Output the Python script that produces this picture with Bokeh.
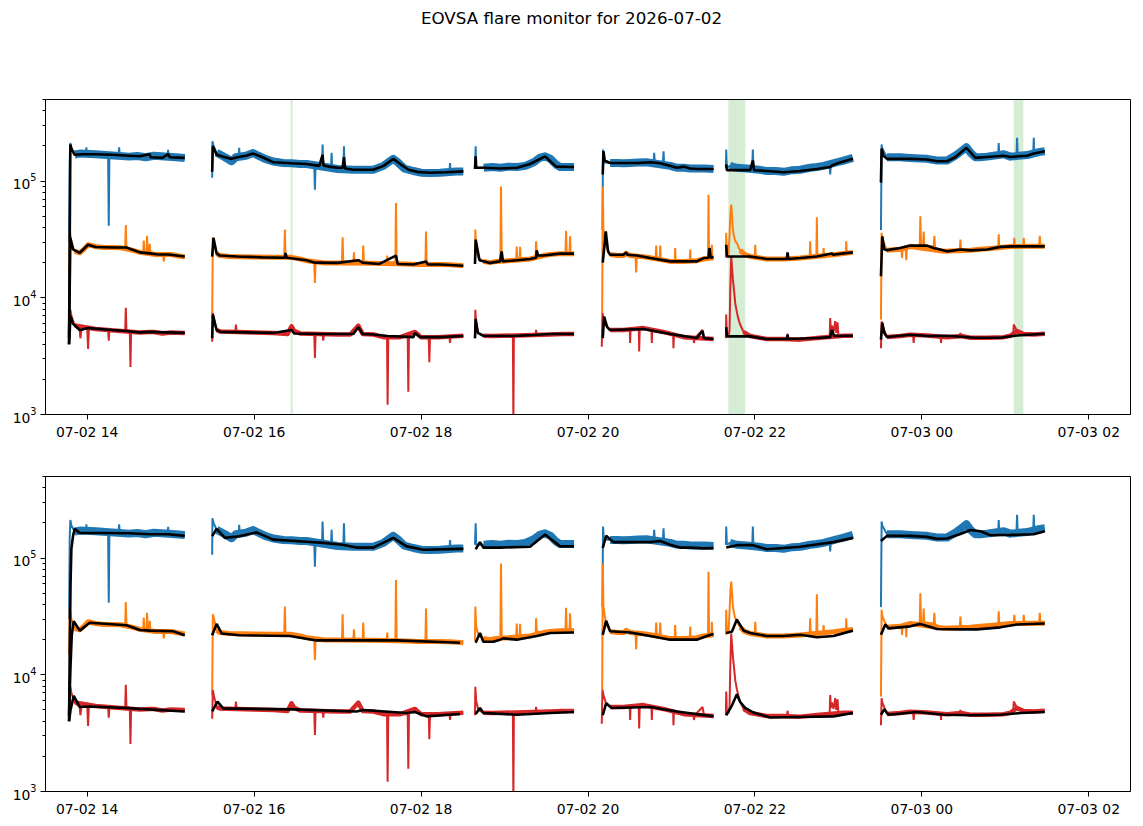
from datetime import datetime, timezone
import math
from bokeh.plotting import figure
from bokeh.models import Range1d, FixedTicker, DatetimeTickFormatter, BoxAnnotation, Div
from bokeh.layouts import column
from bokeh.embed import file_html
from bokeh.resources import INLINE

TITLE = "EOVSA flare monitor for 2026-07-02"
XLIM_H = (13.5, 26.5)          # hours after 2026-07-02 00:00 UTC
YLIM = (1e3, 5e5)
X_TICKS_H = [14, 16, 18, 20, 22, 24, 26]
Y_TICKS = [1e3, 1e4, 1e5]
Y_MINOR = [m * 10 ** e for e in (3, 4, 5) for m in range(2, 10) if m * 10 ** e <= 5e5]
FLARE_SPANS_H = [(16.437, 16.461), (21.682, 21.884), (25.100, 25.216)]

# raw light curves (hour, value); None = data gap
RAW_BLUE = [
    (13.782, 3.0e4), (13.790, 1.5e5), (13.798, 2.12e5), (13.810, 1.9e5), (13.850, 1.69e5), (13.910, 1.72e5),
    (13.985, 1.7e5), (13.990, 1.95e5), (13.995, 1.7e5), (14.100, 1.7e5), (14.250, 1.68e5), (14.258, 4.15e4),
    (14.266, 1.68e5), (14.375, 1.7e5), (14.382, 1.95e5), (14.389, 1.7e5), (14.500, 1.62e5), (14.600, 1.64e5),
    (14.700, 1.6e5), (14.800, 1.65e5), (14.962, 1.6e5), (14.969, 1.85e5), (14.976, 1.6e5), (15.060, 1.6e5),
    (15.169, 1.58e5),
    None,
    (15.497, 1.07e5), (15.500, 2.19e5), (15.513, 2.0e5), (15.550, 1.75e5), (15.589, 1.69e5), (15.650, 1.6e5),
    (15.729, 1.48e5), (15.781, 1.6e5), (15.815, 1.6e5), (15.821, 1.93e5), (15.827, 1.6e5), (15.900, 1.65e5),
    (15.988, 1.74e5), (16.050, 1.65e5), (16.130, 1.55e5), (16.228, 1.47e5), (16.350, 1.43e5), (16.448, 1.42e5),
    (16.550, 1.4e5), (16.628, 1.4e5), (16.720, 1.36e5), (16.728, 8.45e4), (16.736, 1.36e5), (16.813, 1.35e5),
    (16.820, 2.06e5), (16.827, 1.4e5), (16.921, 1.3e5), (16.928, 1.75e5), (16.935, 1.3e5), (17.000, 1.27e5),
    (17.069, 1.3e5), (17.076, 1.99e5), (17.083, 1.27e5), (17.188, 1.25e5), (17.307, 1.25e5), (17.427, 1.25e5),
    (17.550, 1.35e5), (17.667, 1.55e5), (17.720, 1.45e5), (17.800, 1.28e5), (17.907, 1.22e5), (18.000, 1.18e5),
    (18.100, 1.17e5), (18.227, 1.18e5), (18.340, 1.2e5), (18.347, 1.43e5), (18.354, 1.2e5), (18.420, 1.21e5),
    (18.506, 1.21e5),
    None,
    (18.646, 1.3e5), (18.654, 1.99e5), (18.660, 1.3e5), (18.750, 1.3e5), (18.850, 1.32e5), (18.950, 1.3e5),
    (19.050, 1.33e5), (19.150, 1.32e5), (19.250, 1.35e5), (19.350, 1.45e5), (19.420, 1.58e5), (19.486, 1.63e5),
    (19.550, 1.55e5), (19.620, 1.38e5), (19.666, 1.32e5), (19.750, 1.32e5), (19.833, 1.32e5),
    None,
    (20.173, 3.8e4), (20.180, 1.86e5), (20.190, 1.45e5), (20.265, 1.43e5), (20.350, 1.43e5), (20.425, 1.42e5),
    (20.505, 1.43e5), (20.600, 1.44e5), (20.700, 1.45e5), (20.786, 1.46e5), (20.793, 1.75e5), (20.800, 1.46e5),
    (20.898, 1.45e5), (20.905, 1.8e5), (20.912, 1.42e5), (20.985, 1.35e5), (21.064, 1.3e5), (21.150, 1.3e5),
    (21.225, 1.28e5), (21.304, 1.28e5), (21.400, 1.28e5), (21.504, 1.27e5),
    None,
    (21.652, 1.3e5), (21.656, 1.86e5), (21.664, 1.3e5), (21.700, 1.35e5), (21.780, 1.3e5), (21.900, 1.28e5),
    (21.968, 1.28e5), (21.975, 1.86e5), (21.982, 1.28e5), (22.050, 1.25e5), (22.143, 1.22e5), (22.250, 1.22e5),
    (22.343, 1.2e5), (22.450, 1.24e5), (22.543, 1.25e5), (22.662, 1.3e5), (22.742, 1.32e5), (22.823, 1.35e5),
    (22.895, 1.38e5), (22.902, 1.14e5), (22.910, 1.4e5), (22.982, 1.45e5), (23.062, 1.5e5), (23.174, 1.58e5),
    None,
    (23.510, 3.8e4), (23.518, 2.06e5), (23.526, 1.9e5), (23.582, 1.6e5), (23.741, 1.6e5), (23.862, 1.58e5),
    (23.982, 1.56e5), (24.062, 1.55e5), (24.182, 1.5e5), (24.302, 1.5e5), (24.400, 1.65e5), (24.462, 1.78e5),
    (24.534, 1.95e5), (24.582, 1.75e5), (24.642, 1.6e5), (24.702, 1.6e5), (24.782, 1.62e5), (24.914, 1.62e5),
    (24.921, 2.12e5), (24.928, 1.62e5), (24.981, 1.7e5), (25.061, 1.62e5), (25.134, 1.65e5), (25.141, 2.35e5),
    (25.148, 1.65e5), (25.261, 1.67e5), (25.334, 1.7e5), (25.341, 2.35e5), (25.348, 1.72e5), (25.413, 1.78e5),
    (25.473, 1.8e5),
]

RAW_ORANGE = [
    (13.782, 1.5e4), (13.790, 3.8e4), (13.810, 3.0e4), (13.850, 2.5e4), (13.910, 2.43e4), (13.960, 2.6e4),
    (14.010, 2.85e4), (14.100, 2.75e4), (14.200, 2.7e4), (14.300, 2.7e4), (14.400, 2.68e4), (14.455, 2.65e4),
    (14.462, 4.2e4), (14.470, 2.65e4), (14.550, 2.55e4), (14.630, 2.45e4), (14.670, 2.42e4), (14.677, 3.1e4),
    (14.685, 2.42e4), (14.710, 2.4e4), (14.717, 3.4e4), (14.725, 2.4e4), (14.742, 2.4e4), (14.749, 2.9e4),
    (14.757, 2.38e4), (14.820, 2.35e4), (14.910, 2.35e4), (14.917, 2.05e4), (14.925, 2.3e4), (15.000, 2.35e4),
    (15.100, 2.28e4), (15.169, 2.24e4),
    None,
    (15.497, 6.7e3), (15.505, 3.3e4), (15.520, 3.0e4), (15.550, 2.4e4), (15.589, 2.3e4), (15.700, 2.26e4),
    (15.850, 2.25e4), (16.000, 2.24e4), (16.228, 2.22e4), (16.360, 2.2e4), (16.368, 3.84e4), (16.376, 2.2e4),
    (16.448, 2.22e4), (16.550, 2.15e4), (16.628, 2.08e4), (16.720, 2.0e4), (16.728, 1.34e4), (16.736, 2.0e4),
    (16.850, 1.99e4), (17.000, 1.99e4), (17.052, 1.99e4), (17.060, 3.3e4), (17.068, 1.99e4), (17.188, 1.98e4),
    (17.196, 2.45e4), (17.204, 1.98e4), (17.300, 1.99e4), (17.307, 2.8e4), (17.315, 2.0e4), (17.427, 1.98e4),
    (17.587, 1.95e4), (17.595, 2.3e4), (17.600, 1.95e4), (17.692, 1.95e4), (17.699, 6.5e4), (17.707, 2.0e4),
    (17.827, 1.95e4), (17.950, 1.93e4), (18.052, 1.93e4), (18.059, 3.7e4), (18.067, 1.95e4), (18.200, 1.93e4),
    (18.350, 1.92e4), (18.506, 1.88e4),
    None,
    (18.646, 1.95e4), (18.650, 3.84e4), (18.660, 2.6e4), (18.686, 2.2e4), (18.746, 2.05e4), (18.826, 2.0e4),
    (18.900, 2.05e4), (18.950, 2.05e4), (18.958, 9.0e4), (18.966, 2.1e4), (19.050, 2.08e4), (19.140, 2.1e4),
    (19.146, 2.75e4), (19.152, 2.1e4), (19.180, 2.12e4), (19.186, 2.73e4), (19.192, 2.12e4), (19.306, 2.15e4),
    (19.372, 2.2e4), (19.378, 3.05e4), (19.386, 2.35e4), (19.466, 2.3e4), (19.546, 2.35e4), (19.666, 2.39e4),
    (19.730, 2.39e4), (19.737, 3.76e4), (19.745, 2.39e4), (19.778, 2.4e4), (19.785, 3.36e4), (19.792, 2.4e4),
    (19.833, 2.39e4),
    None,
    (20.170, 7.4e3), (20.177, 9.0e4), (20.185, 3.84e4), (20.193, 3.5e4), (20.213, 2.8e4), (20.265, 2.35e4),
    (20.350, 2.3e4), (20.425, 2.3e4), (20.457, 2.4e4), (20.505, 2.3e4), (20.570, 2.25e4), (20.577, 1.65e4),
    (20.585, 2.25e4), (20.665, 2.25e4), (20.745, 2.2e4), (20.810, 2.2e4), (20.817, 2.8e4), (20.825, 2.2e4),
    (20.860, 2.2e4), (20.865, 2.8e4), (20.872, 2.15e4), (20.985, 2.05e4), (21.040, 2.05e4), (21.044, 2.67e4),
    (21.050, 2.05e4), (21.150, 2.05e4), (21.220, 2.05e4), (21.225, 2.59e4), (21.230, 2.05e4), (21.304, 2.08e4),
    (21.384, 2.15e4), (21.438, 2.2e4), (21.444, 7.65e4), (21.450, 2.3e4), (21.480, 2.2e4), (21.484, 2.85e4),
    (21.490, 2.2e4), (21.504, 2.2e4),
    None,
    (21.652, 2.2e4), (21.656, 3.6e4), (21.664, 2.3e4), (21.684, 2.3e4), (21.696, 3.5e4), (21.708, 5.5e4),
    (21.716, 6.3e4), (21.726, 5.0e4), (21.736, 3.84e4), (21.750, 3.36e4), (21.764, 3.05e4), (21.784, 2.95e4),
    (21.804, 2.7e4), (21.823, 2.55e4), (21.863, 2.4e4), (21.883, 2.34e4), (21.943, 2.26e4), (21.998, 2.22e4),
    (22.004, 2.85e4), (22.010, 2.2e4), (22.143, 2.15e4), (22.343, 2.15e4), (22.543, 2.19e4), (22.656, 2.2e4),
    (22.662, 3.05e4), (22.668, 2.2e4), (22.736, 2.25e4), (22.742, 4.9e4), (22.748, 2.25e4), (22.818, 2.3e4),
    (22.823, 2.67e4), (22.830, 2.3e4), (22.942, 2.34e4), (23.062, 2.4e4), (23.090, 2.42e4), (23.094, 3.05e4),
    (23.100, 2.42e4), (23.174, 2.45e4),
    None,
    (23.510, 6.5e3), (23.518, 3.6e4), (23.526, 3.2e4), (23.582, 2.55e4), (23.741, 2.6e4), (23.756, 2.6e4),
    (23.762, 2.2e4), (23.770, 2.6e4), (23.808, 2.6e4), (23.814, 2.1e4), (23.820, 2.65e4), (23.862, 2.75e4),
    (23.975, 2.8e4), (23.982, 5.0e4), (23.990, 2.85e4), (24.015, 2.85e4), (24.022, 3.7e4), (24.030, 2.8e4),
    (24.142, 2.75e4), (24.150, 3.4e4), (24.158, 2.7e4), (24.262, 2.5e4), (24.455, 2.55e4), (24.462, 3.15e4),
    (24.470, 2.55e4), (24.582, 2.55e4), (24.702, 2.6e4), (24.822, 2.65e4), (24.915, 2.7e4), (24.921, 3.5e4),
    (24.928, 2.7e4), (25.061, 2.75e4), (25.101, 2.76e4), (25.108, 3.26e4), (25.115, 2.78e4), (25.215, 2.76e4),
    (25.221, 3.26e4), (25.228, 2.76e4), (25.341, 2.76e4), (25.405, 2.76e4), (25.413, 3.4e4), (25.420, 2.76e4),
    (25.473, 2.76e4),
]

RAW_RED = [
    (13.782, 4.0e3), (13.790, 6.5e3), (13.798, 7.9e3), (13.810, 7.0e3), (13.850, 5.8e3), (13.910, 5.3e3),
    (13.918, 4.5e3), (13.930, 5.3e3), (14.000, 5.5e3), (14.010, 3.64e3), (14.020, 5.5e3), (14.100, 5.4e3),
    (14.250, 5.35e3), (14.258, 4.3e3), (14.266, 5.3e3), (14.455, 5.3e3), (14.462, 8.2e3), (14.470, 5.3e3),
    (14.510, 5.2e3), (14.518, 2.55e3), (14.526, 5.2e3), (14.630, 5.05e3), (14.750, 5.1e3), (14.800, 5.1e3),
    (14.900, 4.95e3), (15.000, 5.05e3), (15.169, 5.0e3),
    None,
    (15.497, 4.2e3), (15.505, 7.4e3), (15.520, 6.5e3), (15.550, 5.3e3), (15.589, 5.15e3), (15.775, 5.15e3),
    (15.781, 5.9e3), (15.790, 5.15e3), (16.000, 5.05e3), (16.228, 5.0e3), (16.400, 4.9e3), (16.448, 5.7e3),
    (16.480, 5.2e3), (16.550, 4.95e3), (16.720, 4.9e3), (16.728, 3.05e3), (16.736, 4.9e3), (16.820, 4.9e3),
    (16.828, 4.3e3), (16.836, 4.9e3), (17.000, 4.85e3), (17.150, 4.85e3), (17.247, 5.77e3), (17.300, 4.9e3),
    (17.427, 4.85e3), (17.550, 4.6e3), (17.592, 4.6e3), (17.599, 1.21e3), (17.607, 4.6e3), (17.750, 4.6e3),
    (17.840, 4.6e3), (17.847, 1.57e3), (17.855, 4.65e3), (17.927, 5.1e3), (18.000, 4.6e3), (18.092, 4.55e3),
    (18.099, 2.8e3), (18.107, 4.55e3), (18.200, 4.6e3), (18.340, 4.6e3), (18.347, 4.1e3), (18.355, 4.65e3),
    (18.506, 4.73e3),
    None,
    (18.646, 4.5e3), (18.650, 7.9e3), (18.660, 6.0e3), (18.686, 5.0e3), (18.746, 4.73e3), (18.850, 4.7e3),
    (19.100, 4.7e3), (19.106, 8.0e2), (19.112, 4.7e3), (19.250, 4.78e3), (19.372, 4.8e3), (19.378, 5.3e3),
    (19.386, 4.8e3), (19.546, 4.85e3), (19.700, 4.9e3), (19.833, 4.9e3),
    None,
    (20.165, 3.8e3), (20.173, 7.4e3), (20.190, 6.5e3), (20.213, 5.8e3), (20.265, 5.3e3), (20.425, 5.3e3),
    (20.500, 5.3e3), (20.505, 4.1e3), (20.510, 5.3e3), (20.608, 5.4e3), (20.613, 3.47e3), (20.620, 5.4e3),
    (20.665, 5.5e3), (20.760, 5.4e3), (20.765, 4.1e3), (20.770, 5.4e3), (20.900, 5.1e3), (21.020, 4.85e3),
    (21.024, 3.7e3), (21.030, 4.85e3), (21.150, 4.6e3), (21.264, 4.5e3), (21.270, 4.1e3), (21.280, 4.5e3),
    (21.372, 5.3e3), (21.390, 4.5e3), (21.504, 4.43e3),
    None,
    (21.652, 4.5e3), (21.656, 7.2e3), (21.664, 4.8e3), (21.684, 4.7e3), (21.696, 5.3e3), (21.705, 1.2e4),
    (21.716, 2.26e4), (21.726, 1.8e4), (21.736, 1.43e4), (21.750, 1.15e4), (21.764, 9.0e3), (21.784, 7.5e3),
    (21.804, 6.5e3), (21.823, 5.9e3), (21.863, 5.1e3), (21.943, 4.7e3), (22.143, 4.43e3), (22.343, 4.43e3),
    (22.384, 4.43e3), (22.391, 4.92e3), (22.400, 4.43e3), (22.543, 4.38e3), (22.742, 4.52e3), (22.895, 4.52e3),
    (22.902, 6.7e3), (22.910, 5.2e3), (22.922, 5.8e3), (22.942, 5.1e3), (22.962, 6.3e3), (22.975, 5.0e3),
    (22.990, 6.15e3), (23.000, 4.8e3), (23.062, 4.73e3), (23.174, 4.73e3),
    None,
    (23.510, 3.7e3), (23.518, 6.3e3), (23.526, 5.8e3), (23.582, 4.61e3), (23.741, 4.7e3), (23.862, 4.83e3),
    (23.895, 4.8e3), (23.902, 4.1e3), (23.910, 4.8e3), (24.062, 4.75e3), (24.225, 4.6e3), (24.230, 4.1e3),
    (24.235, 4.6e3), (24.302, 4.6e3), (24.455, 4.6e3), (24.462, 5.0e3), (24.470, 4.7e3), (24.582, 4.55e3),
    (24.782, 4.55e3), (24.981, 4.6e3), (25.061, 4.73e3), (25.095, 4.75e3), (25.101, 5.9e3), (25.141, 5.2e3),
    (25.221, 4.9e3), (25.341, 4.85e3), (25.473, 4.92e3),
]

# background estimates, upper panel
BG1_BLUE = [
    (13.782, 4.0e3), (13.798, 2.06e5), (13.810, 1.9e5), (13.850, 1.68e5), (13.950, 1.7e5), (14.100, 1.7e5),
    (14.300, 1.68e5), (14.500, 1.65e5), (14.630, 1.63e5), (14.749, 1.7e5), (14.760, 1.6e5), (14.900, 1.58e5),
    (14.969, 1.7e5), (14.990, 1.6e5), (15.169, 1.58e5),
    None,
    (15.497, 1.2e5), (15.505, 2.0e5), (15.550, 1.68e5), (15.650, 1.6e5), (15.729, 1.55e5), (15.800, 1.6e5),
    (15.900, 1.65e5), (15.988, 1.72e5), (16.100, 1.6e5), (16.228, 1.45e5), (16.448, 1.42e5), (16.628, 1.4e5),
    (16.780, 1.35e5), (16.820, 1.68e5), (16.830, 1.36e5), (16.900, 1.33e5), (17.000, 1.3e5), (17.060, 1.3e5),
    (17.076, 1.6e5), (17.090, 1.28e5), (17.188, 1.25e5), (17.427, 1.25e5), (17.550, 1.35e5), (17.667, 1.55e5),
    (17.750, 1.4e5), (17.850, 1.25e5), (17.950, 1.2e5), (18.100, 1.18e5), (18.300, 1.19e5), (18.506, 1.21e5),
    None,
    (18.646, 1.27e5), (18.654, 1.63e5), (18.660, 1.3e5), (18.750, 1.3e5), (18.950, 1.28e5), (19.150, 1.3e5),
    (19.306, 1.4e5), (19.486, 1.63e5), (19.560, 1.45e5), (19.620, 1.33e5), (19.833, 1.32e5),
    None,
    (20.177, 1.14e5), (20.185, 1.8e5), (20.200, 1.5e5), (20.265, 1.43e5), (20.425, 1.43e5), (20.600, 1.43e5),
    (20.745, 1.45e5), (20.865, 1.42e5), (20.985, 1.35e5), (21.064, 1.3e5), (21.150, 1.33e5), (21.225, 1.28e5),
    (21.304, 1.27e5), (21.504, 1.27e5),
    None,
    (21.656, 1.39e5), (21.664, 1.24e5), (21.943, 1.24e5), (21.975, 1.5e5), (21.990, 1.24e5), (22.143, 1.22e5),
    (22.343, 1.19e5), (22.543, 1.22e5), (22.742, 1.27e5), (22.902, 1.32e5), (22.922, 1.36e5), (23.000, 1.43e5),
    (23.174, 1.55e5),
    None,
    (23.510, 9.7e4), (23.518, 1.9e5), (23.540, 1.65e5), (23.582, 1.55e5), (23.862, 1.55e5), (24.062, 1.53e5),
    (24.182, 1.48e5), (24.302, 1.48e5), (24.400, 1.6e5), (24.534, 1.93e5), (24.642, 1.58e5), (24.782, 1.61e5),
    (24.981, 1.65e5), (25.061, 1.61e5), (25.261, 1.65e5), (25.341, 1.72e5), (25.473, 1.8e5),
]

BG1_ORANGE = [
    (13.782, 4.5e3), (13.798, 3.27e4), (13.830, 2.6e4), (13.910, 2.43e4), (14.010, 2.85e4), (14.100, 2.72e4),
    (14.300, 2.7e4), (14.470, 2.7e4), (14.630, 2.45e4), (14.749, 2.4e4), (14.850, 2.35e4), (14.969, 2.35e4),
    (15.169, 2.26e4),
    None,
    (15.497, 2.25e4), (15.513, 3.26e4), (15.550, 2.4e4), (15.589, 2.3e4), (15.800, 2.26e4), (16.100, 2.22e4),
    (16.368, 2.2e4), (16.376, 2.42e4), (16.390, 2.2e4), (16.628, 2.1e4), (16.728, 2.0e4), (17.000, 1.99e4),
    (17.247, 2.1e4), (17.300, 2.0e4), (17.500, 1.95e4), (17.699, 2.3e4), (17.720, 1.95e4), (17.907, 1.93e4),
    (18.059, 2.05e4), (18.080, 1.93e4), (18.227, 1.93e4), (18.506, 1.88e4),
    None,
    (18.646, 1.95e4), (18.654, 3.15e4), (18.700, 2.1e4), (18.826, 1.99e4), (18.946, 2.05e4), (18.966, 2.5e4),
    (18.980, 2.05e4), (19.146, 2.1e4), (19.306, 2.15e4), (19.378, 2.2e4), (19.386, 2.55e4), (19.400, 2.3e4),
    (19.466, 2.3e4), (19.666, 2.39e4), (19.833, 2.39e4),
    None,
    (20.177, 2.0e4), (20.213, 3.7e4), (20.240, 2.5e4), (20.265, 2.34e4), (20.425, 2.34e4), (20.457, 2.45e4),
    (20.470, 2.34e4), (20.585, 2.3e4), (20.745, 2.19e4), (20.985, 2.05e4), (21.304, 2.05e4), (21.384, 2.19e4),
    (21.444, 2.2e4), (21.456, 2.67e4), (21.470, 2.2e4), (21.504, 2.24e4),
    None,
    (21.656, 2.85e4), (21.664, 2.26e4), (21.943, 2.26e4), (22.143, 2.15e4), (22.383, 2.15e4), (22.391, 2.45e4),
    (22.400, 2.15e4), (22.543, 2.19e4), (22.742, 2.26e4), (22.922, 2.4e4), (22.935, 2.34e4), (23.062, 2.4e4),
    (23.174, 2.45e4),
    None,
    (23.510, 1.53e4), (23.526, 3.36e4), (23.550, 2.6e4), (23.582, 2.56e4), (23.741, 2.67e4), (23.862, 2.8e4),
    (24.062, 2.8e4), (24.142, 2.67e4), (24.302, 2.5e4), (24.462, 2.59e4), (24.582, 2.55e4), (24.782, 2.59e4),
    (24.941, 2.73e4), (25.101, 2.76e4), (25.473, 2.76e4),
]

BG1_RED = [
    (13.782, 4.0e3), (13.800, 7.0e3), (13.830, 6.0e3), (13.910, 5.3e3), (14.010, 5.5e3), (14.300, 5.3e3),
    (14.470, 5.2e3), (14.630, 5.05e3), (14.749, 5.1e3), (15.169, 5.0e3),
    None,
    (15.497, 4.5e3), (15.505, 7.2e3), (15.550, 5.3e3), (15.600, 5.1e3), (16.228, 5.0e3), (16.448, 5.3e3),
    (16.480, 4.95e3), (16.800, 4.9e3), (17.188, 4.9e3), (17.247, 5.6e3), (17.300, 4.9e3), (17.427, 4.85e3),
    (17.600, 4.7e3), (17.907, 4.6e3), (17.927, 5.0e3), (17.990, 4.6e3), (18.227, 4.6e3), (18.506, 4.7e3),
    None,
    (18.646, 4.5e3), (18.654, 6.6e3), (18.680, 5.0e3), (18.746, 4.73e3), (19.106, 4.7e3), (19.346, 4.8e3),
    (19.546, 4.9e3), (19.833, 4.9e3),
    None,
    (20.177, 4.5e3), (20.193, 6.9e3), (20.230, 5.6e3), (20.265, 5.3e3), (20.665, 5.4e3), (20.985, 4.9e3),
    (21.064, 4.8e3), (21.304, 4.52e3), (21.372, 5.2e3), (21.390, 4.5e3), (21.504, 4.43e3),
    None,
    (21.656, 5.6e3), (21.664, 4.67e3), (21.943, 4.67e3), (22.143, 4.43e3), (22.383, 4.43e3), (22.391, 4.83e3),
    (22.400, 4.43e3), (22.742, 4.52e3), (22.902, 4.6e3), (22.922, 5.3e3), (22.950, 4.7e3), (23.174, 4.73e3),
    None,
    (23.510, 4.38e3), (23.526, 6.1e3), (23.550, 5.0e3), (23.582, 4.61e3), (23.862, 4.83e3), (24.062, 4.7e3),
    (24.302, 4.73e3), (24.642, 4.55e3), (24.941, 4.55e3), (25.141, 4.75e3), (25.473, 4.92e3),
]

# background estimates, lower panel
BG2_BLUE = [
    (13.782, 4.0e3), (13.790, 1.5e4), (13.800, 6.0e4), (13.810, 1.2e5), (13.830, 1.55e5), (13.850, 1.78e5),
    (13.910, 1.64e5), (14.200, 1.64e5), (14.500, 1.63e5), (14.749, 1.6e5), (14.969, 1.6e5), (15.169, 1.55e5),
    None,
    (15.497, 1.54e5), (15.550, 1.78e5), (15.650, 1.49e5), (15.821, 1.54e5), (16.028, 1.66e5), (16.228, 1.44e5),
    (16.628, 1.38e5), (16.828, 1.35e5), (17.060, 1.3e5), (17.227, 1.23e5), (17.427, 1.23e5), (17.667, 1.49e5),
    (17.827, 1.26e5), (18.027, 1.18e5), (18.467, 1.2e5), (18.506, 1.2e5),
    None,
    (18.654, 1.19e5), (18.706, 1.37e5), (18.746, 1.23e5), (18.946, 1.23e5), (19.306, 1.25e5), (19.486, 1.59e5),
    (19.666, 1.26e5), (19.833, 1.26e5),
    None,
    (20.177, 1.22e5), (20.217, 1.55e5), (20.305, 1.37e5), (20.745, 1.37e5), (20.865, 1.4e5), (20.985, 1.3e5),
    (21.104, 1.23e5), (21.225, 1.23e5), (21.384, 1.21e5), (21.504, 1.22e5),
    None,
    (21.656, 1.23e5), (21.784, 1.29e5), (21.975, 1.29e5), (22.143, 1.19e5), (22.543, 1.25e5), (22.942, 1.37e5),
    (23.174, 1.49e5),
    None,
    (23.510, 1.4e5), (23.582, 1.55e5), (23.862, 1.55e5), (24.062, 1.52e5), (24.182, 1.46e5), (24.302, 1.47e5),
    (24.462, 1.61e5), (24.582, 1.74e5), (24.702, 1.7e5), (24.822, 1.57e5), (25.061, 1.58e5), (25.341, 1.6e5),
    (25.473, 1.7e5),
]

BG2_ORANGE = [
    (13.782, 4.5e3), (13.800, 1.2e4), (13.815, 2.2e4), (13.838, 2.88e4), (13.910, 2.39e4), (14.030, 2.79e4),
    (14.470, 2.66e4), (14.630, 2.42e4), (14.749, 2.39e4), (15.029, 2.36e4), (15.169, 2.18e4),
    None,
    (15.497, 2.18e4), (15.550, 2.73e4), (15.610, 2.26e4), (15.821, 2.18e4), (16.428, 2.15e4), (16.748, 1.97e4),
    (17.427, 1.97e4), (17.707, 1.97e4), (18.467, 1.88e4),
    None,
    (18.654, 1.88e4), (18.706, 2.28e4), (18.746, 1.92e4), (18.866, 1.92e4), (18.946, 2.0e4), (18.986, 2.05e4),
    (19.146, 2.0e4), (19.386, 2.15e4), (19.546, 2.28e4), (19.833, 2.3e4),
    None,
    (20.177, 2.2e4), (20.217, 2.9e4), (20.265, 2.36e4), (20.505, 2.3e4), (20.745, 2.15e4), (20.985, 2.0e4),
    (21.304, 2.0e4), (21.424, 2.15e4), (21.504, 2.24e4),
    None,
    (21.656, 2.28e4), (21.724, 2.34e4), (21.784, 2.97e4), (21.863, 2.4e4), (21.943, 2.28e4), (22.143, 2.15e4),
    (22.343, 2.15e4), (22.543, 2.2e4), (22.742, 2.1e4), (22.942, 2.15e4), (23.174, 2.39e4),
    None,
    (23.510, 2.2e4), (23.562, 2.7e4), (23.602, 2.5e4), (23.862, 2.6e4), (23.982, 2.73e4), (24.182, 2.47e4),
    (24.462, 2.45e4), (24.662, 2.45e4), (24.941, 2.55e4), (25.141, 2.7e4), (25.473, 2.75e4),
]

BG2_RED = [
    (13.782, 4.0e3), (13.800, 5.0e3), (13.838, 6.6e3), (13.910, 5.3e3), (14.030, 5.35e3), (14.470, 5.2e3),
    (14.630, 5.1e3), (15.169, 4.85e3),
    None,
    (15.497, 4.85e3), (15.560, 5.9e3), (15.630, 5.15e3), (16.468, 5.05e3), (17.227, 4.85e3), (17.307, 5.0e3),
    (17.827, 4.7e3), (17.927, 4.8e3), (18.067, 4.4e3), (18.467, 4.61e3),
    None,
    (18.654, 4.61e3), (18.706, 5.2e3), (18.746, 4.7e3), (19.146, 4.55e3), (19.546, 4.7e3), (19.833, 4.8e3),
    None,
    (20.177, 4.5e3), (20.217, 5.7e3), (20.285, 5.2e3), (20.745, 5.3e3), (21.064, 4.85e3), (21.504, 4.4e3),
    None,
    (21.656, 4.5e3), (21.724, 5.45e3), (21.784, 6.8e3), (21.823, 5.85e3), (21.883, 5.2e3), (21.983, 4.75e3),
    (22.183, 4.3e3), (22.543, 4.35e3), (22.942, 4.4e3), (23.174, 4.7e3),
    None,
    (23.510, 4.55e3), (23.550, 5.05e3), (23.602, 4.55e3), (23.942, 4.8e3), (24.262, 4.55e3), (24.582, 4.5e3),
    (24.941, 4.55e3), (25.181, 4.7e3), (25.473, 4.8e3),
]

DAY0 = datetime(2026, 7, 2, tzinfo=timezone.utc).timestamp() * 1000.0
HOUR = 3600000.0
FONT = "DejaVu Sans"
C_BLUE, C_ORANGE, C_RED = "#1f77b4", "#ff7f0e", "#d62728"


def hms(h):
    return DAY0 + h * HOUR


def to_xy(series):
    xs, ys = [], []
    for item in series:
        if item is None:
            xs.append(float("nan"))
            ys.append(float("nan"))
        else:
            xs.append(hms(item[0]))
            ys.append(item[1])
    return xs, ys


def noise_floor(series):
    """The quiet part of the readings (no segment-first sample, no sample next to a fast jump),
    drawn as a thick band under the thin trace to stand for the sample-to-sample noise."""
    out = []
    n = len(series)
    for i, item in enumerate(series):
        if item is None:
            out.append(None)
            continue
        prev = series[i - 1] if i > 0 else None
        nxt = series[i + 1] if i + 1 < n else None
        if prev is None:
            continue
        steep = False
        for nb in (prev, nxt):
            if nb is not None and abs(nb[0] - item[0]) < 0.03 and \
                    abs(math.log10(nb[1]) - math.log10(item[1])) > 0.035:
                steep = True
        if not steep:
            out.append(item)
    return out


def panel(bgs, spans, height, top, bottom):
    p = figure(width=1143, height=height, x_axis_type="datetime", y_axis_type="log",
               x_range=Range1d(hms(XLIM_H[0]), hms(XLIM_H[1])), y_range=Range1d(*YLIM),
               output_backend="svg", toolbar_location=None,
               min_border_left=45, min_border_right=13, min_border_top=top, min_border_bottom=bottom)
    p.grid.visible = False
    p.outline_line_color = "black"
    p.outline_line_alpha = 1.0
    p.background_fill_color = "white"
    p.border_fill_color = "white"

    for a, b in spans:
        p.add_layout(BoxAnnotation(left=hms(a), right=hms(b), fill_color="#2ca02c", fill_alpha=0.2,
                                   line_color=None, level="underlay"))

    for series, col, wband in ((RAW_BLUE, C_BLUE, 8.0), (RAW_ORANGE, C_ORANGE, 5.0), (RAW_RED, C_RED, 4.5)):
        xb, yb = to_xy(noise_floor(series))
        p.line(xb, yb, line_color=col, line_width=wband, line_join="round")
        x, y = to_xy(series)
        p.line(x, y, line_color=col, line_width=2.0)
    for series in bgs:
        x, y = to_xy(series)
        p.line(x, y, line_color="black", line_width=2.6)

    p.xaxis.ticker = FixedTicker(ticks=[hms(h) for h in X_TICKS_H])
    p.xaxis.formatter = DatetimeTickFormatter(
        milliseconds="%m-%d %H", seconds="%m-%d %H", minsec="%m-%d %H", minutes="%m-%d %H",
        hourmin="%m-%d %H", hours="%m-%d %H", days="%m-%d %H", months="%m-%d %H", years="%m-%d %H",
        strip_leading_zeros=False)
    p.yaxis.ticker = FixedTicker(ticks=Y_TICKS, minor_ticks=Y_MINOR)
    for ax in (p.xaxis, p.yaxis):
        ax.axis_line_color = "black"
        ax.major_tick_line_color = "black"
        ax.minor_tick_line_color = "black"
        ax.major_tick_in = 0
        ax.major_tick_out = 5
        ax.minor_tick_in = 0
        ax.minor_tick_out = 3
        ax.major_label_text_font = FONT
        ax.major_label_text_font_size = "13.9px"
        ax.major_label_text_color = "black"
        ax.major_label_standoff = 4
    p.xaxis.minor_tick_line_color = None
    return p


title = Div(text='<div style="width:1143px;text-align:center;font-family:\'DejaVu Sans\';'
                 'font-size:16.7px;line-height:20px;color:black;">' + TITLE + '</div>',
            width=1143, height=20, margin=(8, 0, 0, 0))
p1 = panel([BG1_BLUE, BG1_ORANGE, BG1_RED], FLARE_SPANS_H, 422, 71, 36)
p2 = panel([BG2_BLUE, BG2_ORANGE, BG2_RED], [], 374, 26, 33)

layout = column(title, p1, p2, spacing=0)
open("out.html", "w").write(file_html(layout, INLINE))
